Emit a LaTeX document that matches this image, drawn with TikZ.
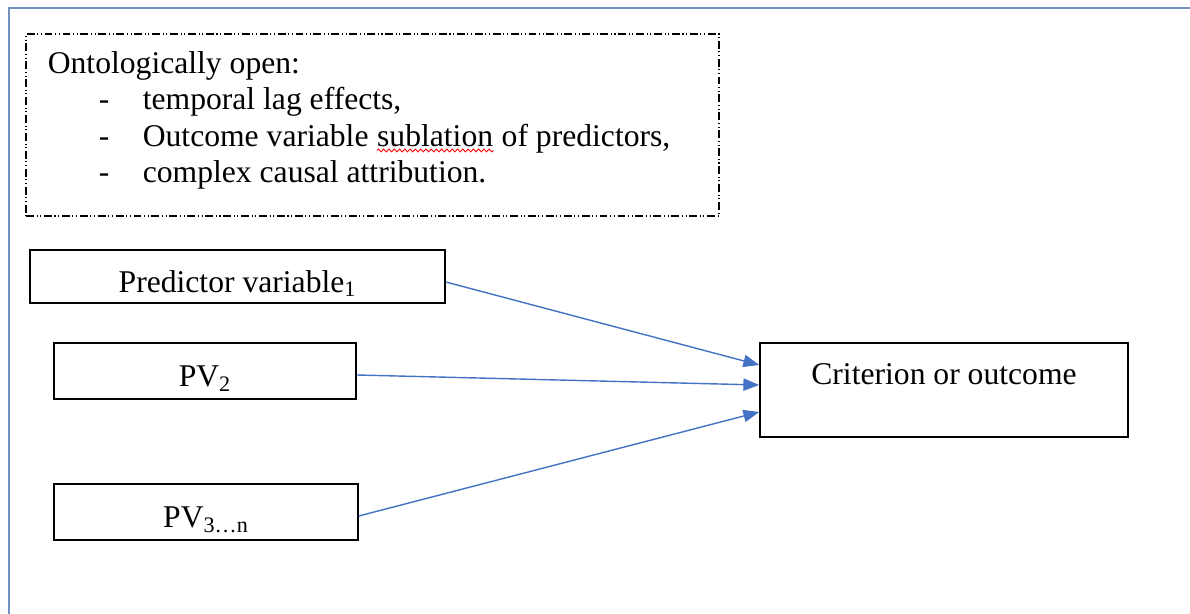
\documentclass[tikz,border=0pt]{standalone}
\usepackage{fontspec}
\setmainfont{Liberation Serif}
\usetikzlibrary{positioning,calc,arrows.meta,decorations.pathmorphing}
\definecolor{frameblue}{RGB}{112,146,190}
\definecolor{arrowblue}{RGB}{68,114,196}
\tikzset{arrowline/.style={draw, arrowblue, line width=0.8pt, -{Triangle[length=9pt,width=7pt]}}}

\begin{document}
\begin{tikzpicture}[node distance=0.5cm, font=\fontsize{18}{22}\selectfont]
\tikzstyle{box} = [rectangle, draw, line width=0.9pt, text height=18pt, text depth=0pt, inner sep=0pt]
\tikzstyle{openbox} = [rectangle, draw, line width=0.6pt, dash pattern=on 4.5pt off 1.5pt on 0.6pt off 1.5pt on 0.6pt off 1.5pt]
\tikzstyle{txt} = [inner sep=0pt, anchor=base west]
\tikzstyle{spell} = [draw, red, line width=0.5pt, decorate, decoration={snake, amplitude=0.8pt, segment length=3pt}]

\useasboundingbox (0,0) rectangle (23.8,-12.28);

% outer frame
\draw[frameblue, line width=1.2pt] (0.18,-12.28) -- (0.18,-0.16) -- (23.8,-0.16);

% ontologically open box
\node [openbox, minimum width=13.86cm, minimum height=3.64cm](open) at (7.45,-2.5) {};
\node [txt](title) at ($(open.north west)+(0.44,-0.8)$) {Ontologically open:};
\node [below=0.73cm of title.base west, xshift=1.02cm, txt](d1) {-};
\node [right=0.88cm of d1.base west, txt](i1) {temporal lag effects,};
\node [below=0.73cm of d1.base west, txt](d2) {-};
\node [right=0.88cm of d2.base west, txt](i2a) {Outcome variable};
\node [right=4.5pt of i2a.base east, txt](sub) {sublation};
\node [right=4.5pt of sub.base east, txt](i2b) {of predictors,};
\node [below=0.73cm of d2.base west, txt](d3) {-};
\node [right=0.88cm of d3.base west, txt](i3) {complex causal attribution.};
\draw [spell] ($(sub.base west)+(0,-0.08)$) -- ($(sub.base east)+(0,-0.08)$);

% predictors and criterion
\node [box, minimum width=8.3cm, minimum height=1.06cm](pv1) at (4.75,-5.53) {Predictor variable\textsubscript{1}};
\node [box, minimum width=6.04cm, minimum height=1.12cm](pv2) at (4.10,-7.42) {PV\textsubscript{2}};
\node [box, minimum width=6.08cm, minimum height=1.12cm](pv3) at (4.12,-10.24) {PV\textsubscript{3…n}};
\node [box, minimum width=7.36cm, minimum height=1.88cm](crit) at (18.88,-7.80) {};
\node [below=0.84cm of crit.north, anchor=base](crittxt) {Criterion or outcome};

% arrows
\draw [arrowline] ($(pv1.east)+(0,-0.11)$) -- ($(crit.west)+(0,0.5)$);
\draw [arrowline] ($(pv2.east)+(0,-0.08)$) -- ($(crit.west)+(0,0.1)$);
\draw [arrowline] ($(pv3.east)+(0,-0.08)$) -- ($(crit.west)+(0,-0.44)$);

\end{tikzpicture}
\end{document}
